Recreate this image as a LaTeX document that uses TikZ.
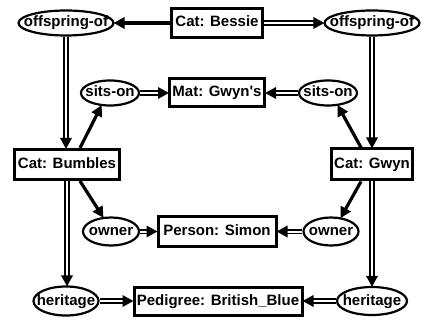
\documentclass[tikz,border=0pt]{standalone}
\usepackage{fontspec}
\setmainfont{Liberation Sans}
\usetikzlibrary{arrows.meta,shapes.geometric,decorations.markings}
\begin{document}
\begin{tikzpicture}[x=1pt,y=-1pt,
  lbl/.style={font=\bfseries\fontsize{15}{18}\selectfont, text height=10.5pt, text depth=2.5pt},
  box/.style={lbl, draw, rectangle, line width=3pt, inner sep=0pt},
  rel/.style={lbl, draw, ellipse, line width=2.2pt, inner sep=0pt},
  tip/.style={postaction={decorate, decoration={markings,
      mark=at position 1 with {\fill (0.8pt,0pt) -- (-10pt,6pt) -- (-10pt,-6pt) -- cycle;}}}},
  sgl/.style={line width=3.2pt, shorten >=8pt, tip},
  dbl/.style={double, double distance=2pt, line width=1.6pt, shorten >=8pt, tip}]
\useasboundingbox (0,0) rectangle (422,320);
% concept boxes
\node[box, minimum width=91pt, minimum height=29pt] (bessie) at (217,23) {Cat: Bessie};
\node[box, minimum width=95pt, minimum height=28pt] (mat) at (217,93) {Mat: Gwyn\textquotesingle s};
\node[box, minimum width=105pt, minimum height=30pt] (bumbles) at (67,164.5) {Cat: Bumbles};
\node[box, minimum width=81pt, minimum height=31pt] (gwyn) at (372,164.5) {Cat: Gwyn};
\node[box, minimum width=118pt, minimum height=30pt] (simon) at (217,231.5) {Person: Simon};
\node[box, minimum width=168pt, minimum height=28pt] (ped) at (218,301) {Pedigree: British\_Blue};
% relations
\node[rel, minimum width=95pt, minimum height=25pt] (offL) at (66,23) {\makebox[0pt]{offspring-of}};
\node[rel, minimum width=95pt, minimum height=25pt] (offR) at (372,23) {\makebox[0pt]{offspring-of}};
\node[rel, minimum width=58pt, minimum height=25pt] (sitsL) at (110,93) {\makebox[0pt]{sits-on}};
\node[rel, minimum width=58pt, minimum height=25pt] (sitsR) at (328,93) {\makebox[0pt]{sits-on}};
\node[rel, minimum width=56pt, minimum height=28pt] (ownL) at (111,231.5) {\makebox[0pt]{owner}};
\node[rel, minimum width=55pt, minimum height=28pt] (ownR) at (331,231.5) {\makebox[0pt]{owner}};
\node[rel, minimum width=65pt, minimum height=29pt] (herL) at (66,301) {\makebox[0pt]{heritage}};
\node[rel, minimum width=70pt, minimum height=28pt] (herR) at (372,301) {\makebox[0pt]{heritage}};
% connectors
\draw[sgl] (bessie) -- (offL);
\draw[dbl] (bessie) -- (offR);
\draw[dbl] (offL.south) -- (offL.south |- bumbles.north);
\draw[dbl] (offR.south) -- (offR.south |- gwyn.north);
\draw[dbl] (sitsL) -- (mat);
\draw[dbl] (sitsR) -- (mat);
\draw[sgl] ([xshift=13pt]bumbles.north) -- (sitsL.236);
\draw[sgl] ([xshift=-11pt]gwyn.north) -- (sitsR.308);
\draw[sgl] ([xshift=13pt]bumbles.south) -- (ownL.119);
\draw[sgl] ([xshift=-11pt]gwyn.south) -- (ownR.55);
\draw[dbl] (ownL) -- (simon);
\draw[dbl] (ownR) -- (simon);
\draw[dbl] (bumbles.south) -- (bumbles.south |- herL.north);
\draw[dbl] (gwyn.south) -- (gwyn.south |- herR.north);
\draw[dbl] (herL) -- (ped);
\draw[dbl] (herR) -- (ped);
\end{tikzpicture}
\end{document}
